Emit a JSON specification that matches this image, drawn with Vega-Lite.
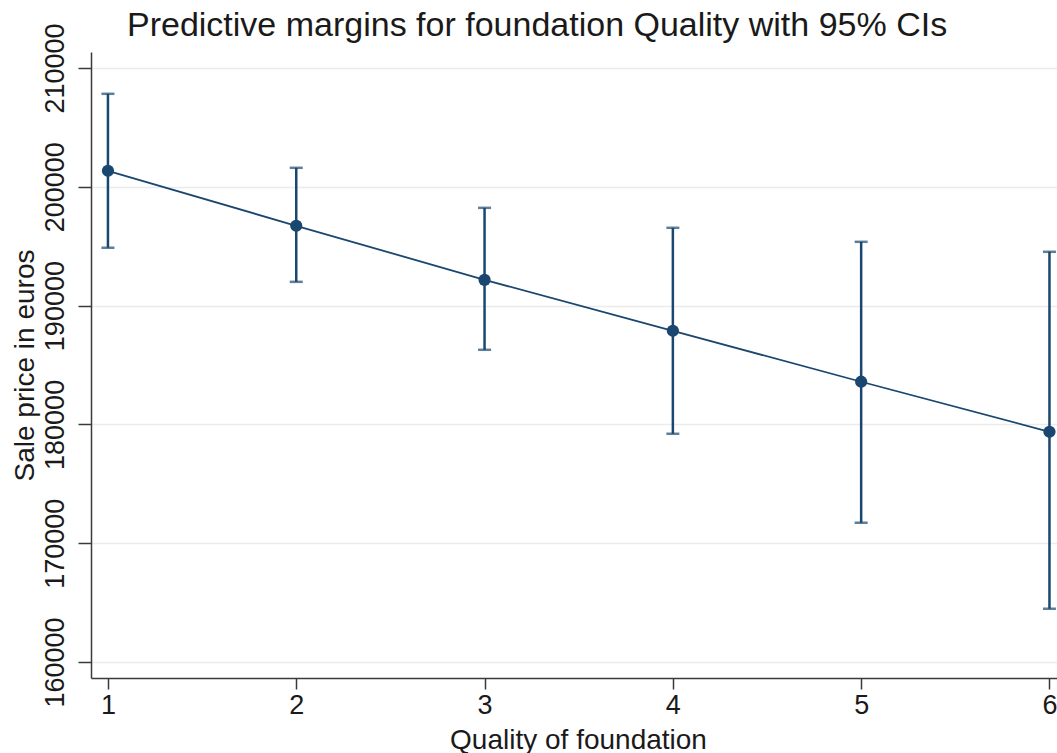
{
  "$schema": "https://vega.github.io/schema/vega-lite/v6.json",
  "autosize": {"type": "none"},
  "padding": {"left": 91, "top": 52, "right": 0, "bottom": 75},
  "width": 966,
  "height": 626,
  "background": "white",
  "config": {
    "font": "Liberation Sans",
    "view": {"stroke": null},
    "axis": {
      "labelFont": "Liberation Sans",
      "titleFont": "Liberation Sans",
      "labelColor": "#1a1a1a",
      "titleColor": "#1a1a1a",
      "titleFontWeight": "normal",
      "domainColor": "#3a3a3a",
      "tickColor": "#3a3a3a",
      "domainWidth": 1.5,
      "tickWidth": 1.5
    }
  },
  "title": {
    "text": "Predictive margins for foundation Quality with 95% CIs",
    "font": "Liberation Sans",
    "fontSize": 34,
    "fontWeight": "normal",
    "color": "#1a1a1a",
    "anchor": "start",
    "frame": "group",
    "baseline": "alphabetic",
    "offset": -47,
    "dx": 36
  },
  "data": {
    "values": [
      {"quality": 1, "margin": 201350, "lo": 194870, "hi": 207830},
      {"quality": 2, "margin": 196720, "lo": 192000, "hi": 201600},
      {"quality": 3, "margin": 192170, "lo": 186280, "hi": 198230},
      {"quality": 4, "margin": 187880, "lo": 179210, "hi": 196550},
      {"quality": 5, "margin": 183590, "lo": 171720, "hi": 195370},
      {"quality": 6, "margin": 179380, "lo": 164480, "hi": 194530}
    ]
  },
  "encoding": {
    "x": {
      "field": "quality",
      "type": "quantitative",
      "scale": {"domain": [0.91, 6.04], "nice": false, "zero": false},
      "axis": {
        "title": "Quality of foundation",
        "values": [1, 2, 3, 4, 5, 6],
        "format": "d",
        "grid": false,
        "tickSize": 11,
        "labelFontSize": 27,
        "labelPadding": 3,
        "labelBaseline": "top",
        "titleFontSize": 28,
        "titleBaseline": "alphabetic",
        "titleY": 70,
        "titleX": 487,
        "titleAlign": "center"
      }
    }
  },
  "layer": [
    {
      "mark": {"type": "rule", "color": "#1a476f", "strokeWidth": 2.5},
      "encoding": {
        "y": {
          "field": "lo",
          "type": "quantitative",
          "scale": {"domain": [158650, 211350], "nice": false, "zero": false},
          "axis": {
            "title": "Sale price in euros",
            "values": [160000, 170000, 180000, 190000, 200000, 210000],
            "format": "d",
            "grid": true,
            "gridColor": "#ebebeb",
            "gridWidth": 1.5,
            "tickSize": 13,
            "labelAngle": -90,
            "labelAlign": "center",
            "labelBaseline": "alphabetic",
            "labelPadding": 15,
            "labelFontSize": 27,
            "titleFontSize": 28,
            "titleAngle": -90,
            "titleBaseline": "alphabetic",
            "titleAlign": "center",
            "titleX": -58,
            "titleY": 313
          }
        },
        "y2": {"field": "hi"}
      }
    },
    {
      "mark": {"type": "tick", "orient": "horizontal", "color": "#1a476f", "size": 13, "thickness": 2.5},
      "encoding": {"y": {"field": "lo", "type": "quantitative"}}
    },
    {
      "mark": {"type": "tick", "orient": "horizontal", "color": "#1a476f", "size": 13, "thickness": 2.5},
      "encoding": {"y": {"field": "hi", "type": "quantitative"}}
    },
    {
      "mark": {"type": "line", "color": "#1a476f", "strokeWidth": 1.8},
      "encoding": {"y": {"field": "margin", "type": "quantitative"}}
    },
    {
      "mark": {"type": "point", "filled": true, "opacity": 1, "color": "#1a476f", "size": 150},
      "encoding": {"y": {"field": "margin", "type": "quantitative"}}
    }
  ]
}
